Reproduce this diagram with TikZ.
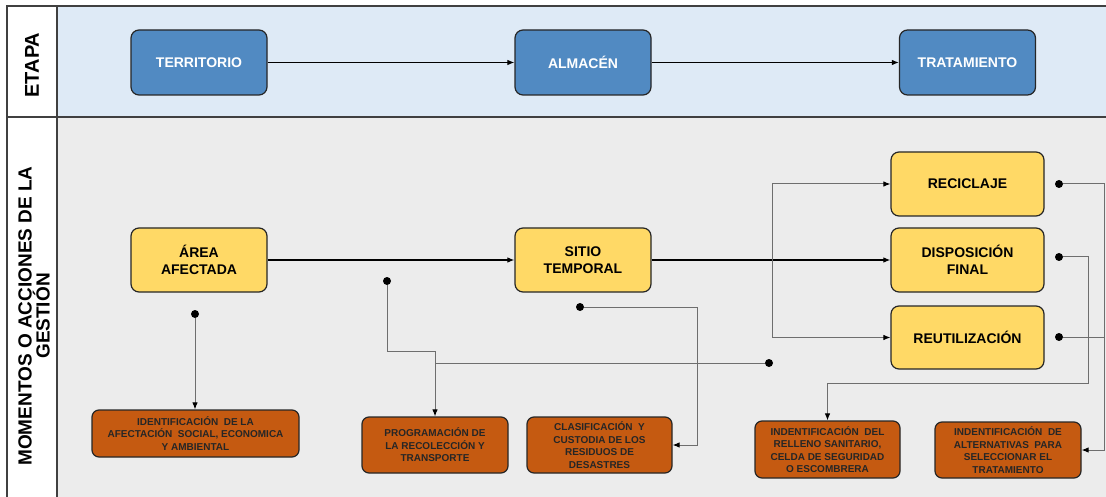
\documentclass[tikz,border=0pt]{standalone}
\usepackage{fontspec}
\setmainfont{Liberation Sans}
\usepackage{tikz}
\usetikzlibrary{arrows.meta}

\definecolor{bandblue}{RGB}{222,234,246}
\definecolor{bandgray}{RGB}{236,236,236}
\definecolor{etapablue}{RGB}{81,138,194}
\definecolor{accionyellow}{RGB}{255,217,102}
\definecolor{tareaorange}{RGB}{197,90,17}
\definecolor{edgegray}{RGB}{38,38,38}
\definecolor{linkgray}{RGB}{110,110,110}

\begin{document}
\begin{tikzpicture}[x=1pt, y=-1pt, >={Latex[length=7pt, width=5.5pt, black]},
    etapa/.style={rectangle, draw=edgegray, line width=1.2pt, rounded corners=8pt,
                  fill=etapablue, minimum width=136pt, minimum height=65pt,
                  text=white, font=\fontsize{14}{17}\selectfont\bfseries, align=center},
    accion/.style={rectangle, draw=edgegray, line width=1.2pt, rounded corners=8pt,
                   fill=accionyellow, minimum width=136pt, minimum height=64pt,
                   font=\fontsize{14}{17}\selectfont\bfseries, align=center},
    tarea/.style={rectangle, draw=edgegray, line width=1.2pt, rounded corners=7pt,
                  fill=tareaorange, minimum height=56pt, inner sep=2pt,
                  text=black!85, font=\fontsize{10}{12.5}\selectfont\bfseries, align=center},
    frame/.style={draw=black!75, line width=1.4pt},
    arrow/.style={->, line width=1.1pt},
    link/.style={draw=linkgray, line width=1pt},
    punto/.style={circle, fill=black, inner sep=0pt, minimum size=8pt}]
    \useasboundingbox (0,0) rectangle (1106,497);
    % carriles
    \fill[bandblue] (57,6) rectangle (1106,117);
    \fill[bandgray] (57,117) rectangle (1106,497);
    \draw[frame] (1106,6) -- (7,6) -- (7,497);
    \draw[frame] (57,6) -- (57,497);
    \draw[frame] (7,117) -- (1106,117);
    \node[rotate=90, font=\fontsize{20}{20}\selectfont\bfseries] (lblEtapa) at (32,65) {ETAPA};
    \node[rotate=90, align=center, font=\fontsize{19}{17}\selectfont\bfseries] (lblMomentos) at (34,316)
        {MOMENTOS O ACCIONES DE LA\\GESTIÓN};

    % etapas
    \node[etapa] (territorio) at (199,62.5) {TERRITORIO};
    \node[etapa, right of=territorio, node distance=384pt] (almacen) {ALMACÉN};
    \node[etapa, right of=almacen, node distance=384.5pt] (tratamiento) {TRATAMIENTO};

    % acciones
    \node[accion] (area) at (199,260) {ÁREA\\AFECTADA};
    \node[accion, right of=area, node distance=384pt] (sitio) {SITIO\\TEMPORAL};
    \node[accion, right of=sitio, node distance=384.5pt, minimum width=153pt] (disposicion) {DISPOSICIÓN\\FINAL};
    \node[accion, above of=disposicion, node distance=76pt, minimum width=153pt] (reciclaje) {RECICLAJE};
    \node[accion, below of=disposicion, node distance=77.5pt, minimum width=153pt, minimum height=63pt] (reutilizacion) {REUTILIZACIÓN};

    % tareas
    \node[tarea, minimum width=207pt, minimum height=47pt] (identAfect) at (195.5,433.5)
        {IDENTIFICACIÓN \ DE LA\\AFECTACIÓN \ SOCIAL, ECONOMICA\\Y AMBIENTAL};
    \node[tarea, minimum width=146pt] (programa) at (435,445)
        {PROGRAMACIÓN DE\\LA RECOLECCIÓN Y\\TRANSPORTE};
    \node[tarea, minimum width=145pt] (clasifica) at (599.5,445)
        {CLASIFICACIÓN \ Y\\CUSTODIA DE LOS\\RESIDUOS DE\\DESASTRES};
    \node[tarea, minimum width=145pt, minimum height=57pt] (relleno) at (827.5,449.5)
        {INDENTIFICACIÓN \ DEL\\RELLENO SANITARIO,\\CELDA DE SEGURIDAD\\O ESCOMBRERA};
    \node[tarea, minimum width=146pt] (alternativas) at (1008,450)
        {INDENTIFICACIÓN \ DE\\ALTERNATIVAS \ PARA\\SELECCIONAR EL\\TRATAMIENTO};

    % puntos de enlace
    \node[punto] (p1) at (195,314) {};
    \node[punto] (p2) at (387,281) {};
    \node[punto] (p3) at (769,363) {};
    \node[punto] (p4) at (580,307) {};
    \node[punto] (p5) at (1059,184) {};
    \node[punto] (p6) at (1059,257) {};
    \node[punto] (p7) at (1059,337) {};
    \coordinate (j1) at (435,351);
    \coordinate (j2) at (697,445);
    \coordinate (j3) at (1104,450);
    \coordinate (j4) at (1088,383);
    \coordinate (rama) at (772,260);

    % flujo principal
    \draw[arrow] (territorio) -- (almacen);
    \draw[arrow] (almacen) -- (tratamiento);
    \draw[arrow] (area) -- (sitio);
    \draw[arrow] (sitio) -- (disposicion);
    \draw[link, arrow, line width=1pt] (rama) |- (reciclaje.west);
    \draw[link, arrow, line width=1pt] (rama) |- (reutilizacion.west);

    % enlaces a tareas
    \draw[link, arrow, line width=1pt] (p1) -- (p1 |- identAfect.north);
    \draw[link, arrow, line width=1pt] (p2) |- (j1) -- (programa.north);
    \draw[link] (p3) -- (p3 -| programa.north);
    \draw[link, arrow, line width=1pt] (p4) -| (j2) -- (clasifica.east);
    \draw[link, arrow, line width=1pt] (p6) -| (j4) -| (relleno.north);
    \draw[link, arrow, line width=1pt] (p5) -| (j3) -- (alternativas.east);
    \draw[link] (p7) -- (p7 -| j3);
\end{tikzpicture}
\end{document}
